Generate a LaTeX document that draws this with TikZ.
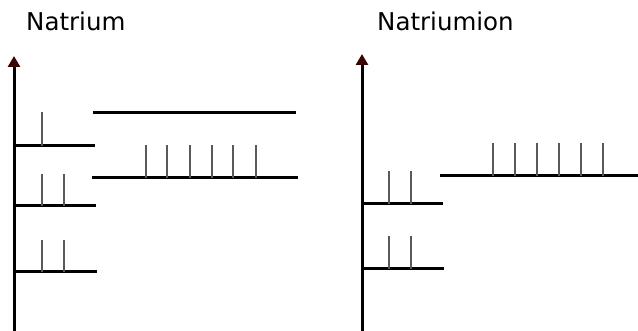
\documentclass[tikz,border=0pt]{standalone}
\usepackage{fontspec}
\setmainfont{DejaVu Sans}
\usetikzlibrary{arrows.meta}
\definecolor{pfeilrot}{HTML}{3A0505}
\begin{document}
\begin{tikzpicture}[x=1pt, y=-1pt,
    achse/.style={line width=3pt, -{Triangle[length=11pt, width=12pt, color=pfeilrot]}},
    niveau/.style={line width=3pt},
    spin/.style={line width=1.7pt, black!65},
    titel/.style={anchor=base west, inner sep=0pt, font=\fontsize{24.5}{28}\selectfont}]
  \useasboundingbox (0,0) rectangle (638,331);
  % Natrium
  \node[titel] (na) at (26,31) {Natrium};
  \draw[achse] (14,331) -- (14,56);
  \draw[niveau] (14,146) -- (95,146);
  \draw[niveau] (14,206) -- (96,206);
  \draw[niveau] (14,272) -- (97,272);
  \draw[niveau] (93,113) -- (296,113);
  \draw[niveau] (92,178) -- (298,178);
  \draw[spin] (42,146) -- ++(0,-34);
  \foreach \x in {42,64} {
    \draw[spin] (\x,206) -- ++(0,-32);
    \draw[spin] (\x,272) -- ++(0,-32);
  }
  \foreach \x in {146,167,190,212,233,256}
    \draw[spin] (\x,178) -- ++(0,-33);
  % Natriumion
  \node[titel] (naion) at (377,31) {Natriumion};
  \draw[achse] (362,331) -- (362,54);
  \draw[niveau] (362,204) -- (443,204);
  \draw[niveau] (362,269) -- (444,269);
  \draw[niveau] (440,176) -- (638,176);
  \foreach \x in {389,411} {
    \draw[spin] (\x,204) -- ++(0,-33);
    \draw[spin] (\x,269) -- ++(0,-33);
  }
  \foreach \x in {493,515,537,559,581,603}
    \draw[spin] (\x,176) -- ++(0,-33);
\end{tikzpicture}
\end{document}
